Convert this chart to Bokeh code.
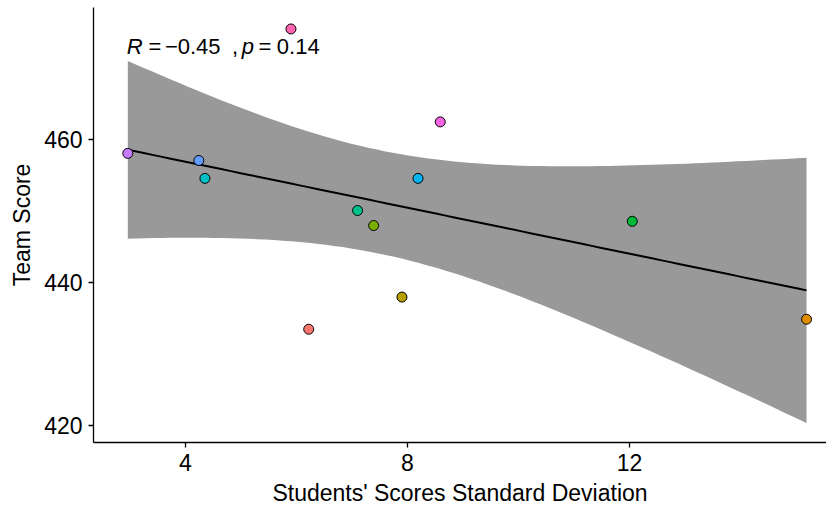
import numpy as np
from bokeh.plotting import figure
from bokeh.models import Range1d, FixedTicker, ColumnDataSource
from bokeh.core.properties import value
from bokeh.embed import file_html
from bokeh.resources import INLINE

# ---- data ----
teams = ["T01", "T02", "T03", "T04", "T05", "T06", "T07", "T08", "T09", "T10", "T11", "T12"]
sd_values = [6.22, 15.19, 7.90, 7.39, 12.05, 7.10, 4.35, 8.19, 4.24, 2.96, 8.59, 5.90]
team_scores = [433.5, 434.9, 438.0, 448.0, 448.6, 450.1, 454.6, 454.6, 457.1, 458.1, 462.5, 475.5]
team_colors = ["#F8766D", "#DE8C00", "#B79F00", "#7CAE00", "#00BA38", "#00C08B",
               "#00BFC4", "#00B4F0", "#619CFF", "#C77CFF", "#F564E3", "#FF64B0"]
x_ticks = [4, 8, 12]
y_ticks = [420, 440, 460]
x_title = "Students' Scores Standard Deviation"
y_title = "Team Score"
t_975_df10 = 2.228  # Student t quantile for 95% CI, n-2 = 10 df

FONT = "Liberation Sans"

x = np.array(sd_values)
y = np.array(team_scores)
n = len(x)

# ---- linear fit + 95% confidence band (as geom_smooth(method="lm")) ----
slope, intercept = np.polyfit(x, y, 1)
xs = np.linspace(x.min(), x.max(), 80)
yfit = intercept + slope * xs
resid = y - (intercept + slope * x)
s = np.sqrt(np.sum(resid ** 2) / (n - 2))
sxx = np.sum((x - x.mean()) ** 2)
se = s * np.sqrt(1.0 / n + (xs - x.mean()) ** 2 / sxx)
lower = yfit - t_975_df10 * se
upper = yfit + t_975_df10 * se

p = figure(width=826, height=508, output_backend="svg", toolbar_location=None,
           x_range=Range1d(2.342, 15.55), y_range=Range1d(417.66, 478.5),
           min_border_left=93, min_border_top=7, min_border_right=0, min_border_bottom=66)
p.outline_line_color = None
p.background_fill_color = "white"
p.border_fill_color = "white"
p.xgrid.visible = False
p.ygrid.visible = False

p.varea(x=xs, y1=lower, y2=upper, fill_color="#999999", fill_alpha=1.0)
p.line(xs, yfit, line_color="black", line_width=2)

src = ColumnDataSource(dict(x=sd_values, y=team_scores, team=teams, color=team_colors))
p.scatter("x", "y", source=src, size=10, fill_color="color", line_color="black", line_width=1)

# ---- correlation annotation: "R = −0.45 , p = 0.14" ----
label_x = float(x.min())
label_y = 473.1
fs = "22px"
pieces = [("R", "italic", -1), ("=", "normal", 20.7), ("\u22120.45", "normal", 37.1),
          (",", "normal", 104.1), ("p", "italic", 114.0), ("=", "normal", 130.7),
          ("0.14", "normal", 149.0)]
for txt, style, off in pieces:
    p.text(x=[label_x], y=[label_y], text=[txt], x_offset=off, text_font=value(FONT),
           text_font_size=fs, text_font_style=style, text_color="black",
           text_baseline="alphabetic", text_align="left")

for ax in (p.xaxis[0], p.yaxis[0]):
    ax.axis_line_color = "black"
    ax.axis_line_width = 1.3
    ax.major_tick_line_color = "black"
    ax.major_tick_line_width = 1.3
    ax.major_tick_out = 5
    ax.major_tick_in = 0
    ax.minor_tick_line_color = None
    ax.major_label_text_font = FONT
    ax.major_label_text_font_size = "23px"
    ax.major_label_text_color = "black"
    ax.axis_label_text_font = FONT
    ax.axis_label_text_font_size = "23px"
    ax.axis_label_text_font_style = "normal"
    ax.axis_label_text_color = "black"

p.xaxis.ticker = FixedTicker(ticks=x_ticks)
p.yaxis.ticker = FixedTicker(ticks=y_ticks)
p.xaxis.axis_label = x_title
p.yaxis.axis_label = y_title
p.xaxis.major_label_standoff = 6
p.xaxis.axis_label_standoff = 6
p.yaxis.major_label_standoff = 6
p.yaxis.axis_label_standoff = 6

open("out.html", "w").write(file_html(p, INLINE))
